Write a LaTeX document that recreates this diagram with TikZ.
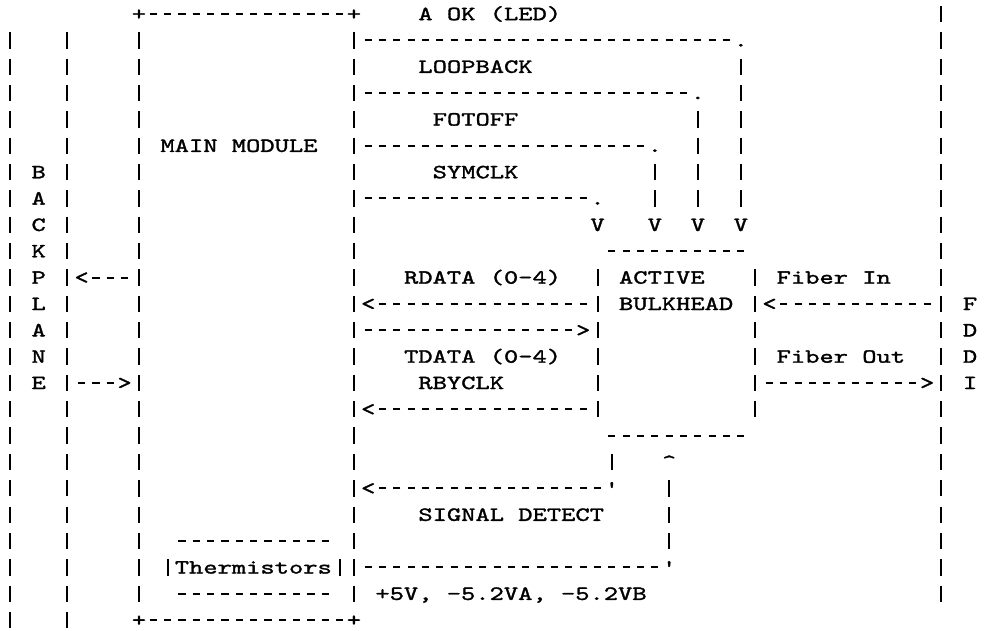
\documentclass[tikz,border=0pt]{standalone}
\usepackage{fontspec}
\usetikzlibrary{fit}
\newfontfamily\asciifont{lmmono10-regular.otf}[FakeStretch=1.35, FakeBold=1.5]

\begin{document}
\begin{tikzpicture}[
  x=3mm, y=-5.517mm,
  line width=1.2pt,
  every node/.style={inner sep=0pt, outer sep=0pt},
  cell/.style={font=\asciifont\fontsize{12}{14}\selectfont, minimum width=3mm, text height=4.05mm, text depth=1.47mm},
  lbl/.style={cell, anchor=west},
  region/.style={draw=none, inner sep=0pt},
  hdash/.style={dash pattern=on 1.5mm off 1.5mm, dash phase=2.25mm},
  vbar/.style={dash pattern=on 3.42mm off 2.097mm, dash phase=4.47mm}
]
\useasboundingbox (-0.698,-0.531) rectangle (68.39,23.38);

% backplane
\node[region, fit={(-0.5,0.5) (4.5,23.5)}] (backplane) {};
\draw[vbar] (0,0.5) -- (0,23.5);
\draw[vbar] (4,0.5) -- (4,23.5);
\foreach \ltr [count=\i from 6] in {B,A,C,K,P,L,A,N,E}
  \node[cell] (bp\i) at (2,\i) {\ltr};

% main module
\node[cell] (mmnw) at (9,0) {+};
\node[cell] (mmne) at (24,0) {+};
\node[cell] (mmsw) at (9,23) {+};
\node[cell] (mmse) at (24,23) {+};
\node[region, fit=(mmnw) (mmse)] (mainmod) {};
\draw[hdash] (mmnw.east) -- (mmne.west);
\draw[hdash] (mmsw.east) -- (mmse.west);
\draw[vbar] (mmnw.south) -- (mmsw.north);
\draw[vbar] (mmne.south) -- (mmse.north);
\node[lbl] (mainlbl) at (10.5,5) {MAIN MODULE};

% thermistors
\node[lbl] (therm) at (11.5,21) {Thermistors};
\draw[hdash] (11.5,20) -- (22.5,20);
\draw[hdash] (11.5,22) -- (22.5,22);
\draw[vbar] (11,20.5) -- (11,21.5);
\draw[vbar] (23,20.5) -- (23,21.5);

% active bulkhead
\node[region, fit={(40.5,8.5) (52.5,16.5)}] (bulkhead) {};
\draw[hdash] (41.5,9) -- (51.5,9);
\draw[hdash] (41.5,16) -- (51.5,16);
\draw[vbar] (41,9.5) -- (41,15.5);
\draw[vbar] (52,9.5) -- (52,15.5);
\node[lbl] (active) at (42.5,10) {ACTIVE};
\node[lbl] (bulk) at (42.5,11) {BULKHEAD};

% fddi
\node[region, fit={(64.5,-0.5) (67.5,22.5)}] (fddi) {};
\draw[vbar] (65,-0.5) -- (65,22.5);
\foreach \ltr [count=\i from 11] in {F,D,D,I}
  \node[cell] (fd\i) at (67,\i) {\ltr};

% backplane <-> main module
\node[cell] (tobp) at (5,10) {<};
\node[cell] (frombp) at (8,14) {>};
\draw[hdash] (tobp.east) -- (mainmod.west |- tobp);
\draw[hdash] (backplane.east |- frombp) -- (frombp.west);

% control lines down to the bulkhead
\node[lbl] (aok) at (28.5,0) {A OK (LED)};
\node[cell] (aokc) at (51,1) {.};
\node[cell] (aokv) at (51,8) {V};
\draw[hdash] (mainmod.east |- aokc) -- (aokc.west);
\draw[vbar] (aokc.south) -- (aokv.north);

\node[lbl] (loop) at (28.5,2) {LOOPBACK};
\node[cell] (loopc) at (48,3) {.};
\node[cell] (loopv) at (48,8) {V};
\draw[hdash] (mainmod.east |- loopc) -- (loopc.west);
\draw[vbar] (loopc.south) -- (loopv.north);

\node[lbl] (fotoff) at (29.5,4) {FOTOFF};
\node[cell] (fotc) at (45,5) {.};
\node[cell] (fotv) at (45,8) {V};
\draw[hdash] (mainmod.east |- fotc) -- (fotc.west);
\draw[vbar] (fotc.south) -- (fotv.north);

\node[lbl] (symclk) at (29.5,6) {SYMCLK};
\node[cell] (symc) at (41,7) {.};
\node[cell] (symv) at (41,8) {V};
\draw[hdash] (mainmod.east |- symc) -- (symc.west);

% data lines
\node[lbl] (rdata) at (27.5,10) {RDATA (0-4)};
\node[cell] (rdv) at (25,11) {<};
\draw[hdash] (rdv.east) -- (bulkhead.west |- rdv);

\node[cell] (tdv) at (40,12) {>};
\draw[hdash] (mainmod.east |- tdv) -- (tdv.west);
\node[lbl] (tdata) at (27.5,13) {TDATA (0-4)};
\node[lbl] (rbyclk) at (28.5,14) {RBYCLK};
\node[cell] (rbv) at (25,15) {<};
\draw[hdash] (rbv.east) -- (bulkhead.west |- rbv);

% fiber
\node[lbl] (fibin) at (53.5,10) {Fiber In};
\node[cell] (fiv) at (53,11) {<};
\draw[hdash] (fiv.east) -- (fddi.west |- fiv);
\node[lbl] (fibout) at (53.5,13) {Fiber Out};
\node[cell] (fov) at (64,14) {>};
\draw[hdash] (bulkhead.east |- fov) -- (fov.west);

% signal detect and power
\node[cell] (sdc) at (42,18) {'};
\node[cell] (sdv) at (25,18) {<};
\draw[vbar] (sdc |- bulkhead.south) -- (sdc.north);
\draw[hdash] (sdc.west) -- (sdv.east);
\node[lbl] (sigdet) at (28.5,19) {SIGNAL DETECT};

\node[cell] (pwc) at (46,21) {'};
\node[cell] (pwv) at (46,17) {\textasciicircum};
\draw[hdash] (mainmod.east |- pwc) -- (pwc.west);
\draw[vbar] (pwc.north) -- (pwv.south);
\node[lbl] (power) at (25.5,22) {+5V, -5.2VA, -5.2VB};
\end{tikzpicture}
\end{document}
